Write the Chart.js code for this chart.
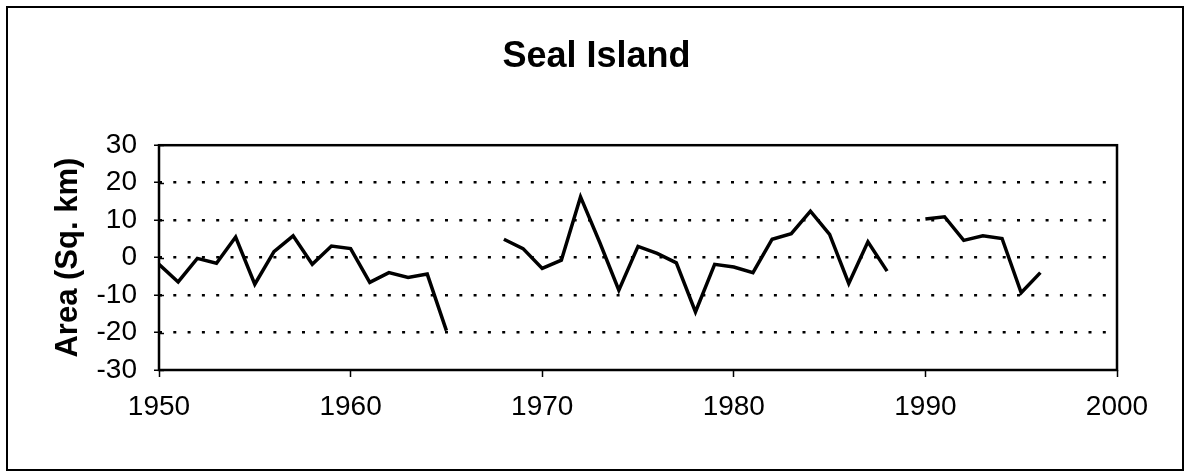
<!DOCTYPE html>
<html>
<head>
<meta charset="utf-8">
<script src="https://cdn.jsdelivr.net/npm/chart.js@4.4.0/dist/chart.umd.min.js"></script>
<style>
  html, body { margin: 0; padding: 0; background: #fff; }
  #wrap { width: 1187px; height: 473px; position: relative; }
</style>
</head>
<body>
<div id="wrap"><canvas id="c" width="1187" height="473"></canvas></div>
<script>
// ---- data ----
const chartTitle = 'Seal Island';
const yAxisTitle = 'Area (Sq. km)';
const years = [1950,1951,1952,1953,1954,1955,1956,1957,1958,1959,
               1960,1961,1962,1963,1964,1965,1966,1967,1968,1969,
               1970,1971,1972,1973,1974,1975,1976,1977,1978,1979,
               1980,1981,1982,1983,1984,1985,1986,1987,1988,1989,
               1990,1991,1992,1993,1994,1995,1996];
const area = [-1.8,-6.5,-0.2,-1.5,5.5,-7.1,1.6,5.8,-1.8,3.1,
              2.4,-6.6,-4.0,-5.3,-4.4,-19.5,null,null,4.9,2.4,
              -2.9,-0.7,16.2,4.1,-8.7,3.0,1.1,-1.4,-14.5,-1.8,
              -2.5,-4.0,4.9,6.4,12.4,6.2,-6.9,4.2,-3.6,null,
              10.3,10.9,4.6,5.8,5.1,-9.4,-4.0];
const xTickValues = [1950,1960,1970,1980,1990,2000];
const xTickLabels = ['1950','1960','1970','1980','1990','2000'];
const yTickValues = [-30,-20,-10,0,10,20,30];
const yTickLabels = ['-30','-20','-10','0','10','20','30'];

const points = years.map((yr, i) => ({ x: yr, y: area[i] }));
const FONT = '"Liberation Sans", Arial, sans-serif';

const framePlugin = {
  id: 'frames',
  afterDraw(chart) {
    const { ctx, chartArea: a } = chart;
    const ys = chart.scales.y;
    ctx.save();
    ctx.strokeStyle = '#000';
    ctx.setLineDash([]);
    // outer frame
    ctx.lineWidth = 2;
    ctx.strokeRect(7, 7, 1176, 463);
    // plot frame
    ctx.lineWidth = 2.5;
    ctx.strokeRect(a.left, a.top, a.right - a.left, a.bottom - a.top);
    // inner half of crossing y tick marks
    ctx.lineWidth = 1.5;
    yTickValues.forEach(v => {
      const py = Math.round(ys.getPixelForValue(v)) + 0.5;
      ctx.beginPath();
      ctx.moveTo(a.left, py);
      ctx.lineTo(a.left + 5, py);
      ctx.stroke();
    });
    ctx.restore();
  }
};

new Chart(document.getElementById('c'), {
  type: 'line',
  data: {
    datasets: [{
      data: points,
      borderColor: '#000',
      borderWidth: 3.5,
      pointRadius: 0,
      tension: 0,
      spanGaps: false,
      fill: false
    }]
  },
  options: {
    responsive: false,
    animation: false,
    devicePixelRatio: 1,
    layout: { padding: { left: 6, right: 0, top: 0, bottom: 0 } },
    plugins: {
      legend: { display: false },
      tooltip: { enabled: false },
      title: {
        display: true,
        text: chartTitle,
        color: '#000',
        font: { family: FONT, size: 36, weight: 'bold', lineHeight: 1.2 },
        padding: { top: 35, bottom: 67 }
      }
    },
    scales: {
      x: {
        type: 'linear',
        min: 1950,
        max: 2000,
        afterBuildTicks(scale) { scale.ticks = xTickValues.map(v => ({ value: v })); },
        afterFit(scale) { scale.height = 103; },
        ticks: {
          color: '#000',
          font: { family: FONT, size: 28 },
          padding: 13,
          maxRotation: 0,
          autoSkip: false,
          callback: (v) => xTickLabels[xTickValues.indexOf(v)]
        },
        grid: {
          drawOnChartArea: false,
          drawTicks: true,
          tickLength: 7,
          tickColor: '#000',
          tickWidth: 1.5
        },
        border: { display: false }
      },
      y: {
        type: 'linear',
        position: 'left',
        min: -30,
        max: 30,
        afterBuildTicks(scale) { scale.ticks = yTickValues.map(v => ({ value: v })); },
        afterFit(scale) { scale.width = 153; },
        ticks: {
          color: '#000',
          font: { family: FONT, size: 28 },
          padding: 17,
          autoSkip: false,
          callback: (v) => yTickLabels[yTickValues.indexOf(v)]
        },
        grid: {
          drawOnChartArea: true,
          color: (ctx) => (ctx.tick && Math.abs(ctx.tick.value) === 30) ? 'rgba(0,0,0,0)' : '#000',
          lineWidth: 2.5,
          tickLength: 5,
          tickColor: '#000',
          tickWidth: 1.5,
          tickBorderDash: []
        },
        border: { display: false, dash: [3, 11.3] },
        title: {
          display: true,
          text: yAxisTitle,
          color: '#000',
          font: { family: FONT, size: 31, weight: 'bold', lineHeight: 1.2 },
          padding: { top: 44, bottom: 0 }
        }
      },
      y2: {
        type: 'linear',
        position: 'right',
        min: -30,
        max: 30,
        display: true,
        afterFit(scale) { scale.width = 70; },
        ticks: { display: false },
        grid: { display: false },
        border: { display: false }
      }
    }
  },
  plugins: [framePlugin]
});
</script>
</body>
</html>
